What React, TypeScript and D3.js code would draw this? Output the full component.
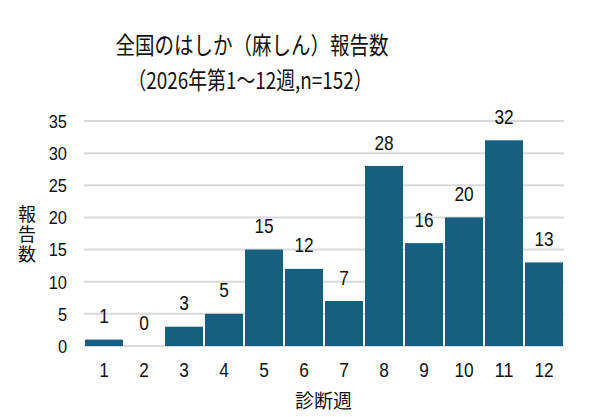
import React from "react";
import * as d3 from "d3";

const weeks = ["1","2","3","4","5","6","7","8","9","10","11","12"];
const counts = [1,0,3,5,15,12,7,28,16,20,32,13];
const yTicks = [0,5,10,15,20,25,30,35];
const titleLine1 = "全国のはしか（麻しん）報告数";
const titleLine2 = "（2026年第1～12週,n=152）";
const yTitle = "報告数";
const xTitle = "診断週";

const W = 594, H = 417;
const left = 84, right = 564, top = 121, bottom = 346;
const numFont = "'Liberation Sans', Arial, sans-serif";
const jpFont = "'Noto Sans CJK JP', sans-serif";
const barColor = "#175f80";

function Num({ x, y, s, size, anchor, dy }: { x: number; y: number; s: string; size: number; anchor: string; dy?: string }) {
  const len = s.length * size * 0.48;
  return (
    <text x={x} y={y} dy={dy} textAnchor={anchor as any} fontFamily={numFont} fontSize={size} fill="#111"
      textLength={len} lengthAdjust="spacingAndGlyphs">{s}</text>
  );
}

export default function App() {
  const x = d3.scaleBand<string>().domain(weeks).range([left, right]).paddingInner(0).paddingOuter(0);
  const y = d3.scaleLinear().domain([0, 35]).range([bottom, top]);
  const bw = x.bandwidth();
  return (
    <svg width={W} height={H} style={{ position: "absolute", left: 0, top: 0, background: "#fff" }}>
      <text x={252} y={54} textAnchor="middle" fontFamily={jpFont} fontSize={23.5} fill="#111" textLength={273} lengthAdjust="spacingAndGlyphs">{titleLine1}</text>
      <text x={250} y={89} textAnchor="middle" fontFamily={jpFont} fontSize={23.5} fill="#111" textLength={245} lengthAdjust="spacingAndGlyphs">{titleLine2}</text>
      {yTicks.map(t => (
        <g key={t}>
          <line x1={left} x2={right} y1={y(t)} y2={y(t)} stroke="#d9d9d9" strokeWidth={2} />
          <Num x={67} y={y(t)} dy="0.36em" anchor="end" size={19} s={String(t)} />
        </g>
      ))}
      {counts.map((c, i) => (
        <rect key={i} x={(x(weeks[i]) as number) + 1} y={y(c)} width={bw - 2} height={bottom - y(c)} fill={barColor} />
      ))}
      {counts.map((c, i) => (
        <Num key={"l" + i} x={(x(weeks[i]) as number) + bw / 2} y={y(c) - 16.5} anchor="middle" size={20} s={String(c)} />
      ))}
      {weeks.map(w => (
        <Num key={"x" + w} x={(x(w) as number) + bw / 2} y={377} anchor="middle" size={20} s={w} />
      ))}
      <text x={27} y={235} textAnchor="middle" fontFamily={jpFont} fontSize={18} fill="#111"
        style={{ writingMode: "vertical-rl" }} letterSpacing={2}>{yTitle}</text>
      <text x={323.5} y={408} textAnchor="middle" fontFamily={jpFont} fontSize={19} fill="#111">{xTitle}</text>
    </svg>
  );
}
